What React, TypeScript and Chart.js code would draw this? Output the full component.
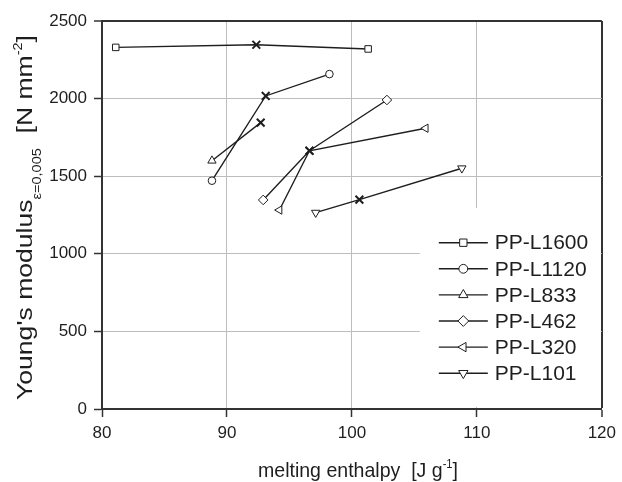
import React, { useEffect, useRef } from 'react';
import { Chart, registerables } from 'chart.js';
import { drawPoint } from 'chart.js/helpers';

Chart.register(...registerables);

const FONT = '"Liberation Sans", Arial, Helvetica, sans-serif';

const seriesNames = ['PP-L1600', 'PP-L1120', 'PP-L833', 'PP-L462', 'PP-L320', 'PP-L101'];

const l1600X = [81.1, 92.35, 101.3];
const l1600Y = [2330, 2347, 2320];
const l1120X = [88.8, 93.1, 98.2];
const l1120Y = [1471, 2017, 2158];
const l833X = [88.8, 92.7];
const l833Y = [1600, 1845];
const l462X = [92.9, 96.6, 102.8];
const l462Y = [1347, 1664, 1991];
const l320X = [94.2, 96.6, 105.9];
const l320Y = [1282, 1664, 1809];
const l101X = [97.1, 100.6, 108.8];
const l101Y = [1265, 1349, 1551];

const xTicks = [80, 90, 100, 110, 120];
const yTicks = [0, 500, 1000, 1500, 2000, 2500];

const xTitleRuns = [
  { text: 'melting enthalpy  [J g', size: 21, dy: 0 },
  { text: '-1', size: 12, dy: -9 },
  { text: ']', size: 21, dy: 0 },
];
const yTitleRuns = [
  { text: "Young's modulus", size: 22, dy: 0 },
  { text: 'ε=0,005', size: 12, dy: 9 },
  { text: '  [N mm', size: 22, dy: 0 },
  { text: '-2', size: 12, dy: -10 },
  { text: ']', size: 22, dy: 0 },
];

const markerStyles = [
  { style: 'rect', rotation: 0, radius: 4.6 },
  { style: 'circle', rotation: 0, radius: 3.8 },
  { style: 'triangle', rotation: 0, radius: 4.8 },
  { style: 'rectRot', rotation: 0, radius: 4.8 },
  { style: 'triangle', rotation: -90, radius: 4.8 },
  { style: 'triangle', rotation: 180, radius: 4.8 },
];

const seriesData = [
  [l1600X, l1600Y],
  [l1120X, l1120Y],
  [l833X, l833Y],
  [l462X, l462Y],
  [l320X, l320Y],
  [l101X, l101Y],
];

const INK = '#1e1e1e';
const GRID = '#bdbdbd';

function drawRuns(ctx: CanvasRenderingContext2D, runs: any[], x: number, y: number, rotate: boolean, targetLen: number) {
  ctx.save();
  ctx.translate(x, y);
  if (rotate) ctx.rotate(-Math.PI / 2);
  let total = 0;
  const widths: number[] = [];
  for (const r of runs) {
    ctx.font = `${r.size}px ${FONT}`;
    const w = ctx.measureText(r.text).width;
    widths.push(w);
    total += w;
  }
  ctx.scale(targetLen / total, 1);
  ctx.fillStyle = INK;
  ctx.textBaseline = 'alphabetic';
  ctx.textAlign = 'left';
  let cx = 0;
  runs.forEach((r, i) => {
    ctx.font = `${r.size}px ${FONT}`;
    ctx.fillText(r.text, cx, r.dy);
    cx += widths[i];
  });
  ctx.restore();
}

const decorPlugin = {
  id: 'decor',
  beforeDatasetsDraw(chart: any) {
    const { ctx, chartArea } = chart;
    ctx.save();
    ctx.fillStyle = '#ffffff';
    ctx.fillRect(chartArea.right - 182, 208, 181, chartArea.bottom - 2 - 208);
    ctx.restore();
  },
  afterDraw(chart: any) {
    const { ctx, chartArea } = chart;
    const left = chartArea.right - 182;
    const rowY0 = 242.7;
    const step = 26.1;
    seriesNames.forEach((name, i) => {
      const y = rowY0 + i * step;
      const x1 = left + 19;
      const x2 = left + 68;
      const xm = (x1 + x2) / 2;
      ctx.save();
      ctx.strokeStyle = INK;
      ctx.lineWidth = 1.4;
      ctx.beginPath();
      ctx.moveTo(x1, y);
      ctx.lineTo(x2, y);
      ctx.stroke();
      ctx.fillStyle = '#ffffff';
      ctx.lineWidth = 1;
      const m = markerStyles[i];
      drawPoint(ctx, { pointStyle: m.style as any, rotation: m.rotation, radius: m.radius + 0.6, borderWidth: 1 } as any, xm, y);
      ctx.fillStyle = INK;
      ctx.font = `21px ${FONT}`;
      ctx.textBaseline = 'middle';
      ctx.textAlign = 'left';
      ctx.fillText(name, x2 + 7, y + 1);
      ctx.restore();
    });
    drawRuns(ctx, xTitleRuns, 258, 477, false, 200);
    drawRuns(ctx, yTitleRuns, 32, 400, true, 365);
  },
};

export default function App() {
  const ref = useRef<HTMLCanvasElement | null>(null);
  useEffect(() => {
    document.body.style.margin = '0';
    const canvas = ref.current!;
    const datasets = seriesData.map(([xs, ys], i) => {
      const m = markerStyles[i];
      const styles = xs.map((_, j) => (j === 1 ? 'crossRot' : m.style));
      const radii = xs.map((_, j) => (j === 1 ? 5.5 : m.radius));
      const bws = xs.map((_, j) => (j === 1 ? 2 : 1));
      return {
        label: seriesNames[i],
        data: xs.map((x, j) => ({ x, y: ys[j] })),
        borderColor: INK,
        backgroundColor: '#ffffff',
        borderWidth: 1.4,
        pointStyle: styles,
        pointRadius: radii,
        pointBorderWidth: bws,
        pointRotation: m.rotation,
        pointBackgroundColor: '#ffffff',
        pointBorderColor: INK,
        showLine: true,
        fill: false,
        tension: 0,
      };
    });
    const chart = new Chart(canvas, {
      type: 'scatter',
      data: { datasets: datasets as any },
      options: {
        animation: false,
        responsive: false,
        devicePixelRatio: 1,
        layout: { padding: { top: 21, right: 17, left: 0, bottom: 0 } },
        plugins: { legend: { display: false }, tooltip: { enabled: false } },
        scales: {
          x: {
            type: 'linear',
            min: xTicks[0],
            max: xTicks[xTicks.length - 1],
            afterBuildTicks: (s: any) => { s.ticks = xTicks.map((v) => ({ value: v })); },
            afterFit: (s: any) => { s.height = 73; },
            ticks: { font: { size: 17, family: FONT }, color: INK, padding: 6, maxRotation: 0, callback: (v: any) => String(v) },
            grid: {
              color: (c: any) => (c.tick && c.tick.value === 120 ? '#333' : c.tick && c.tick.value === 80 ? 'rgba(0,0,0,0)' : GRID),
              lineWidth: (c: any) => (c.tick && c.tick.value === 120 ? 2 : 1),
              tickLength: 8,
              tickColor: '#333',
              tickWidth: 1.5,
            },
            border: { color: '#333', width: 2 },
          },
          y: {
            type: 'linear',
            min: yTicks[0],
            max: yTicks[yTicks.length - 1],
            afterBuildTicks: (s: any) => { s.ticks = yTicks.map((v) => ({ value: v })); },
            afterFit: (s: any) => { s.width = 102; },
            ticks: { font: { size: 17, family: FONT }, color: INK, padding: 7, callback: (v: any) => String(v) },
            grid: {
              color: (c: any) => (c.tick && c.tick.value === 2500 ? '#333' : c.tick && c.tick.value === 0 ? 'rgba(0,0,0,0)' : GRID),
              lineWidth: (c: any) => (c.tick && c.tick.value === 2500 ? 2 : 1),
              tickLength: 8,
              tickColor: '#333',
              tickWidth: 1.5,
            },
            border: { color: '#333', width: 2 },
          },
        },
      },
      plugins: [decorPlugin],
    });
    return () => chart.destroy();
  }, []);
  return (
    <div style={{ width: 622, height: 482 }}>
      <canvas ref={ref} width={622} height={482} style={{ display: 'block', width: 622, height: 482 }} />
    </div>
  );
}
